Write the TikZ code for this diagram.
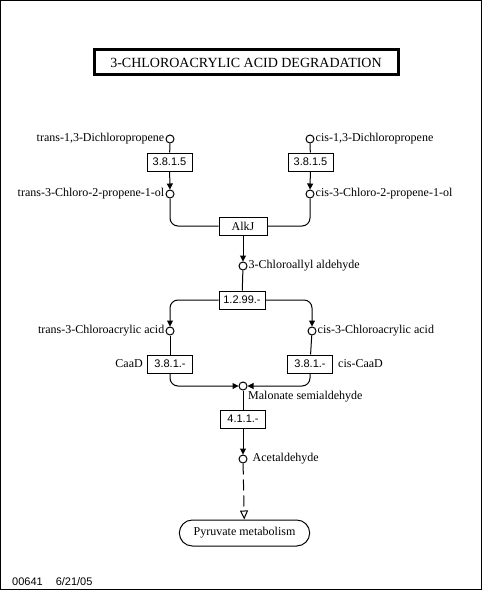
\documentclass[tikz,border=0pt]{standalone}
\usepackage{fontspec}
\setmainfont{Liberation Serif}
\setsansfont{Liberation Sans}
\usetikzlibrary{arrows.meta, positioning, shapes.misc}

\begin{document}
\begin{tikzpicture}[x=1pt, y=-1pt,
    cpd/.style={draw, circle, line width=1pt, minimum size=8pt, inner sep=0pt, fill=white},
    enz/.style={draw, rectangle, line width=1pt, minimum height=18pt, minimum width=45pt, inner sep=2pt, font=\sffamily\fontsize{11}{12}\selectfont},
    gene/.style={draw, rectangle, line width=1pt, minimum height=18pt, minimum width=48pt, inner sep=2pt, font=\fontsize{12}{13}\selectfont},
    cpdname/.style={inner sep=1pt, font=\fontsize{12}{13}\selectfont},
    map/.style={draw, rounded rectangle, line width=1pt, minimum width=137pt, minimum height=26pt, font=\fontsize{12}{13}\selectfont},
    rxn/.style={line width=1pt, -{Triangle[length=6pt, width=6pt]}},
    link/.style={line width=1pt},
    corner/.style={rounded corners=8pt}
]
\useasboundingbox (0,0) rectangle (483,591);
\draw[line width=1pt] (0.5,0.5) rectangle (481.5,589.5);

% title
\node[draw, line width=3pt, minimum width=304pt, minimum height=25pt, font=\fontsize{14}{16}\selectfont] (title) at (246,62.5) {3-CHLOROACRYLIC ACID DEGRADATION};

% compounds
\node[cpd, label={[cpdname]left:trans-1,3-Dichloropropene}] (tdcp) at (170,139) {};
\node[cpd, label={[cpdname]right:cis-1,3-Dichloropropene}] (cdcp) at (310,139) {};
\node[cpd, label={[cpdname]left:trans-3-Chloro-2-propene-1-ol}] (tcpo) at (170,194) {};
\node[cpd, label={[cpdname]right:cis-3-Chloro-2-propene-1-ol}] (ccpo) at (310,194) {};
\node[cpd, label={[cpdname]right:3-Chloroallyl aldehyde}] (cald) at (243,266) {};
\node[cpd, label={[cpdname]left:trans-3-Chloroacrylic acid}] (tacid) at (170,331) {};
\node[cpd, label={[cpdname]right:cis-3-Chloroacrylic acid}] (cacid) at (312,331) {};
\node[cpd] (msa) at (243,386) {};
\node[cpdname, anchor=west] (msaname) at (247,397) {Malonate semialdehyde};
\node[cpd, label={[cpdname, label distance=4pt]right:Acetaldehyde}] (acal) at (243,459) {};

% enzymes
\node[enz] (e1) at (169.5,162) {3.8.1.5};
\node[enz] (e2) at (310.5,162) {3.8.1.5};
\node[gene] (alkj) at (243,226) {AlkJ};
\node[enz, minimum width=46pt] (e3) at (242,300) {1.2.99.-};
\node[enz, label={[cpdname, label distance=3pt]left:CaaD}] (e4) at (170,364) {3.8.1.-};
\node[enz, label={[cpdname, label distance=4pt]right:cis-CaaD}] (e5) at (310,364) {3.8.1.-};
\node[enz] (e6) at (243,419) {4.1.1.-};

% map
\node[map] (pyr) at (244.5,533) {Pyruvate metabolism};

% reactions
\draw[link] (tdcp) -- (e1);
\draw[rxn] (e1) -- (tcpo);
\draw[link] (cdcp) -- (e2);
\draw[rxn] (e2) -- (ccpo);
\draw[link, corner] (tcpo.south) |- (alkj.west);
\draw[link, corner] (ccpo.south) |- (alkj.east);
\draw[rxn] (alkj) -- (cald);
\draw[link] (cald) -- (e3);
\draw[rxn, corner] (e3.west) -| (tacid.north);
\draw[rxn, corner] (e3.east) -| (cacid.north);
\draw[link] (tacid) -- (e4);
\draw[link] (cacid) -- (e5);
\draw[rxn, corner] (e4.south) |- (msa.west);
\draw[rxn, corner] (e5.south) |- (msa.east);
\draw[link] (msa) -- (e6);
\draw[rxn] (e6) -- (acal);
\draw[line width=1pt, dash pattern=on 11pt off 5pt, -{Triangle[open, length=9pt, width=8pt]}] (acal) -- (pyr);

% footer
\node[anchor=west, inner sep=0pt, font=\sffamily\fontsize{11}{12}\selectfont] (foot) at (12,582) {00641\hspace{13pt}6/21/05};
\end{tikzpicture}
\end{document}
